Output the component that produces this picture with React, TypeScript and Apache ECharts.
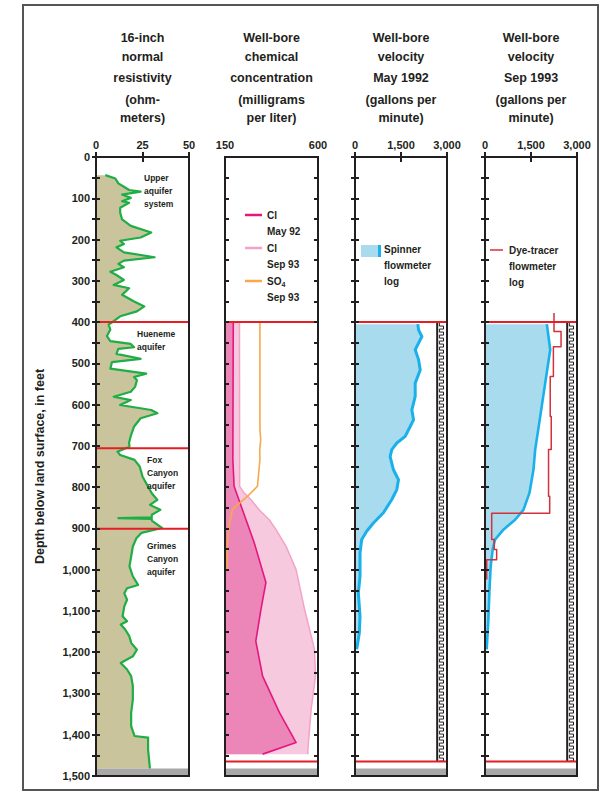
import React, { useEffect, useRef } from "react";
import * as echarts from "echarts";

// ---------- data ----------
const depthAxis = { min: 0, max: 1500, step: 50 };

// 16-inch normal resistivity (ohm-meters) vs depth (ft)
const resDepth = [44, 52, 64, 72, 80, 84, 91, 99, 107, 111, 123, 135, 151, 167, 183, 195, 203, 211, 219, 231, 243, 251, 259, 267, 278, 286, 298, 310, 318, 334, 350, 362, 374, 386, 398, 406, 418, 434, 446, 453, 461, 465, 477, 489, 497, 513, 525, 533, 541, 557, 569, 581, 589, 601, 613, 621, 633, 653, 676, 692, 702, 714, 722, 734, 750, 774, 799, 815, 831, 843, 855, 867, 873, 875, 877, 881, 891, 899, 911, 924, 944, 968, 992, 1016, 1037, 1045, 1057, 1073, 1089, 1113, 1125, 1133, 1145, 1161, 1178, 1194, 1210, 1226, 1242, 1258, 1282, 1315, 1347, 1379, 1403, 1407, 1436, 1482];
const resOhm = [5, 10.4, 12, 15, 17.8, 24, 14, 18.7, 14, 17.8, 13, 13, 14, 18.7, 29.7, 24, 13, 15, 11, 15, 31.5, 15, 12, 15, 7.7, 11, 15, 9.5, 17.8, 14, 20.5, 26, 22, 13, 9.5, 6.8, 7.7, 5.9, 7.7, 18.7, 20.5, 12, 11, 24, 8.6, 7.7, 27, 20.5, 22, 21, 18.7, 9.5, 18.7, 13, 29.7, 33, 24, 20.5, 18.7, 17.8, 18, 11.5, 13, 20.7, 23.5, 25, 28, 30, 33, 29, 34.6, 30, 30, 12, 30, 30, 33, 35.5, 24.4, 21.7, 19.8, 18.9, 18, 19.8, 22.6, 16.7, 15.2, 16.7, 15.2, 14.3, 16.7, 13.3, 15.7, 17.9, 19, 22, 19.8, 13.3, 16.7, 18.9, 19.8, 19.8, 18.9, 18.9, 20.7, 28, 28, 29];

// chemical concentration (mg/L)
const clMayDepth = [402, 733, 798, 854, 934, 1031, 1096, 1173, 1258, 1346, 1419, 1447];
const clMayConc = [190, 188, 194, 234, 291, 348, 324, 299, 332, 413, 494, 332];
const clSepDepth = [402, 798, 814, 830, 855, 879, 903, 943, 1000, 1096, 1193, 1258, 1338, 1435, 1447];
const clSepConc = [220, 221, 242, 275, 315, 364, 397, 445, 494, 535, 583, 588, 567, 551, 551];
const so4Depth = [402, 660, 685, 710, 733, 798, 822, 854, 895, 943, 999];
const so4Conc = [319, 319, 323, 318, 319, 307, 259, 186, 169, 161, 161];

// spinner flowmeter, May 1992 (gal/min)
const spinDepth = [405, 419, 435, 451, 467, 491, 516, 548, 580, 613, 637, 653, 677, 693, 709, 726, 758, 782, 806, 830, 862, 887, 907, 927, 959, 1016, 1056, 1113, 1153, 1193];
const spinRate = [2050, 2072, 2181, 2072, 1963, 2072, 2127, 1963, 1963, 1854, 1908, 1800, 1636, 1363, 1200, 1145, 1254, 1418, 1363, 1200, 927, 600, 382, 218, 164, 164, 109, 164, 142, 55];

// Sep 1993 velocity (gal/min)
const sepDepth = [405, 467, 548, 629, 709, 758, 814, 855, 879, 903, 927, 951, 992, 1056, 1121, 1193];
const sepRate = [2017, 2127, 1963, 1800, 1636, 1580, 1450, 1254, 981, 600, 327, 251, 185, 142, 109, 55];

// dye-tracer flowmeter steps, Sep 1993
const dyeTop = [378, 423, 460, 532, 629, 709, 822, 863, 927, 951, 976];
const dyeBottom = [423, 460, 532, 629, 709, 822, 863, 927, 951, 976, 1024];
const dyeRate = [2250, 2480, 2230, 2127, 2160, 2072, 2110, 218, 300, 380, 55];

// aquifer boundaries and well features (ft)
const aquiferBoundaries = [400, 706, 901];
const wellBoundaries = [400, 1465];
const screenInterval = [2680, 400, 1465]; // [gal/min start, top, bottom]
const bottomBand = [1482, 1500];

// axis ranges and labels
const xMin = [0, 150, 0, 0];
const xMax = [50, 600, 3000, 3000];
const xInterval = [25, 150, 1500, 1500];
const xLabelsShown = [[0, 25, 50], [150, 600], [0, 1500, 3000], [0, 1500, 3000]];

const titleLines = [
  ["16-inch", "normal", "resistivity", "(ohm-", "meters)"],
  ["Well-bore", "chemical", "concentration", "(milligrams", "per liter)"],
  ["Well-bore", "velocity", "May 1992", "(gallons per", "minute)"],
  ["Well-bore", "velocity", "Sep 1993", "(gallons per", "minute)"],
];
const yAxisTitle = "Depth below land surface, in feet";
const aquiferNames = [
  ["Upper", "aquifer", "system"],
  ["Hueneme", "aquifer"],
  ["Fox", "Canyon", "aquifer"],
  ["Grimes", "Canyon", "aquifer"],
];
const chemLegend = [
  ["Cl", "May 92"],
  ["Cl", "Sep 93"],
  ["SO{s|4}", "Sep 93"],
];
const spinnerLegend = ["Spinner", "flowmeter", "log"];
const dyeLegend = ["Dye-tracer", "flowmeter", "log"];

// ---------- styles ----------
const FONT = '"Liberation Sans", Arial, Helvetica, sans-serif';
const INK = "#231f20";
const RED = "#e31e25";
const GREEN = "#1fad45";
const OLIVE = "#cac49d";
const MAGENTA = "#e5177e";
const DARKPINK = "#ec86b8";
const LIGHTPINK = "#f6c9de";
const PINKLINE = "#f3a3c7";
const ORANGE = "#f6a94c";
const BLUE = "#1ab0ea";
const LIGHTBLUE = "#a9dbef";
const DYE = "#d2323a";

const panelLeft = [96, 225, 355, 485];
const panelWidth = [93, 93, 92, 92];
const PTOP = 157;
const PHEIGHT = 619;

const fmt = (v: number) => v.toLocaleString("en-US");

function fillPoly(i: number, xs: number[], ys: number[], color: string, z: number) {
  const base = xMin[i];
  return {
    type: "custom",
    xAxisIndex: 2 * i,
    yAxisIndex: 2 * i,
    z,
    silent: true,
    data: xs.map((x, k) => [x, ys[k]]),
    renderItem: (params: any, api: any) => {
      if (params.dataIndex !== 0) return null;
      const pts = [api.coord([base, ys[0]])]
        .concat(xs.map((x, k) => api.coord([x, ys[k]])))
        .concat([api.coord([base, ys[ys.length - 1]])]);
      return { type: "polygon", shape: { points: pts }, style: { fill: color } };
    },
  };
}

function lineSeries(i: number, pts: number[][], color: string, width: number, z: number) {
  return {
    type: "line",
    xAxisIndex: 2 * i,
    yAxisIndex: 2 * i,
    z,
    silent: true,
    showSymbol: false,
    symbol: "none",
    data: pts,
    lineStyle: { color, width, join: "round" },
  };
}

function hLines(i: number, depths: number[], color: string, z: number) {
  return {
    type: "custom",
    xAxisIndex: 2 * i,
    yAxisIndex: 2 * i,
    z,
    silent: true,
    data: depths.map((d) => [xMin[i], d]),
    renderItem: (params: any, api: any) => {
      const a = api.coord([xMin[i], api.value(1)]);
      const b = api.coord([xMax[i], api.value(1)]);
      return { type: "line", shape: { x1: a[0], y1: a[1], x2: b[0], y2: b[1] }, style: { stroke: color, lineWidth: 2 } };
    },
  };
}

function band(i: number) {
  return {
    type: "custom",
    xAxisIndex: 2 * i,
    yAxisIndex: 2 * i,
    z: 8,
    silent: true,
    data: [[xMin[i], bottomBand[0], bottomBand[1]]],
    renderItem: (params: any, api: any) => {
      const a = api.coord([xMin[i], api.value(1)]);
      const b = api.coord([xMax[i], api.value(2)]);
      return { type: "rect", shape: { x: a[0], y: a[1], width: b[0] - a[0], height: b[1] - a[1] }, style: { fill: "#a8a8a8" } };
    },
  };
}

function screen(i: number) {
  return {
    type: "custom",
    xAxisIndex: 2 * i,
    yAxisIndex: 2 * i,
    z: 6,
    silent: true,
    data: [screenInterval],
    renderItem: (params: any, api: any) => {
      const a = api.coord([api.value(0), api.value(1)]);
      const b = api.coord([xMax[i], api.value(2)]);
      const xl = a[0], yt = a[1], xr = b[0], yb = b[1];
      const pts: number[][] = [];
      const step = 3;
      let k = 0;
      const p = xl + 2.2, q = xr - 3.5;
      for (let y = yt + 1; y < yb; y += step) {
        const x = k % 2 ? q : p;
        pts.push([x, y], [x, Math.min(y + step, yb)]);
        k++;
      }
      return {
        type: "group",
        children: [
          { type: "rect", shape: { x: xl, y: yt, width: xr - xl, height: yb - yt }, style: { fill: "#fff" } },
          { type: "polyline", shape: { points: pts }, style: { stroke: INK, lineWidth: 1, fill: null } },
          { type: "line", shape: { x1: xl, y1: yt, x2: xl, y2: yb }, style: { stroke: INK, lineWidth: 2 } },
        ],
      };
    },
  };
}

function txt(x: number, y: number, text: string, size: number, align = "left", extra: any = {}) {
  return {
    type: "text",
    x,
    y,
    silent: true,
    z: 20,
    style: { text, fontFamily: FONT, fontSize: size, fontWeight: "bold", fill: INK, align, verticalAlign: "middle", ...extra },
  };
}

export default function App() {
  const ref = useRef<HTMLDivElement>(null);
  useEffect(() => {
    if (!ref.current) return;
    const chart = echarts.init(ref.current, undefined, { renderer: "svg" });

    const grids = panelLeft.map((l, i) => ({
      left: l, top: PTOP, width: panelWidth[i], height: PHEIGHT,
      show: true, borderColor: INK, borderWidth: 2, backgroundColor: "transparent", z: 10,
    }));

    const xAxes: any[] = [];
    const yAxes: any[] = [];
    for (let i = 0; i < 4; i++) {
      for (const pos of ["top", "bottom"]) {
        xAxes.push({
          gridIndex: i, type: "value", position: pos, min: xMin[i], max: xMax[i], interval: xInterval[i],
          z: 11,
          axisLine: { show: false }, splitLine: { show: false },
          axisTick: { show: i !== 1, inside: true, length: 5, lineStyle: { color: INK, width: 2 } },
          axisLabel: {
            show: pos === "top", margin: 7, fontSize: 11, fontWeight: "bold", fontFamily: FONT, color: INK,
            formatter: (v: number) => (xLabelsShown[i].includes(v) ? fmt(v) : ""),
          },
        });
      }
      for (const pos of ["left", "right"]) {
        const main = i === 0 && pos === "left";
        yAxes.push({
          gridIndex: i, type: "value", position: pos, inverse: true,
          min: depthAxis.min, max: depthAxis.max, interval: depthAxis.step,
          z: 11,
          axisLine: { show: false }, splitLine: { show: false },
          axisTick: { inside: true, length: 4, lineStyle: { color: INK, width: 2 } },
          axisLabel: {
            show: main, margin: 6, fontSize: 11, fontWeight: "bold", fontFamily: FONT, color: INK,
            formatter: (v: number) => (v % 100 === 0 ? fmt(v) : ""),
          },
          name: main ? yAxisTitle : "",
          nameLocation: "middle", nameRotate: 90, nameGap: 50,
          nameTextStyle: { fontSize: 12.5, fontWeight: "bold", fontFamily: FONT, color: INK },
        });
      }
    }

    const resPts = resOhm.map((v, k) => [v, resDepth[k]]);
    const clMayPts = clMayConc.map((v, k) => [v, clMayDepth[k]]);
    const clSepPts = clSepConc.map((v, k) => [v, clSepDepth[k]]);
    const so4Pts = so4Conc.map((v, k) => [v, so4Depth[k]]);
    const spinPts = spinRate.map((v, k) => [v, spinDepth[k]]);
    const sepPts = sepRate.map((v, k) => [v, sepDepth[k]]);
    const dyePts: number[][] = [];
    dyeRate.forEach((r, k) => { dyePts.push([r, dyeTop[k]]); dyePts.push([r, dyeBottom[k]]); });

    const series: any[] = [
      // panel 1
      fillPoly(0, resOhm, resDepth, OLIVE, 1),
      lineSeries(0, resPts, GREEN, 2.2, 3),
      hLines(0, aquiferBoundaries, RED, 7),
      band(0),
      // panel 2
      fillPoly(1, clSepConc, clSepDepth, LIGHTPINK, 1),
      fillPoly(1, clMayConc, clMayDepth, DARKPINK, 2),
      lineSeries(1, clSepPts, PINKLINE, 1.5, 3),
      lineSeries(1, clMayPts, MAGENTA, 1.6, 4),
      lineSeries(1, so4Pts, ORANGE, 1.6, 5),
      hLines(1, wellBoundaries, RED, 7),
      band(1),
      // panel 3
      fillPoly(2, spinRate, spinDepth, LIGHTBLUE, 1),
      lineSeries(2, spinPts, BLUE, 3, 3),
      screen(2),
      hLines(2, wellBoundaries, RED, 7),
      band(2),
      // panel 4
      fillPoly(3, sepRate, sepDepth, LIGHTBLUE, 1),
      lineSeries(3, sepPts, BLUE, 2.6, 3),
      lineSeries(3, dyePts, DYE, 1.5, 4),
      screen(3),
      hLines(3, wellBoundaries, RED, 7),
      band(3),
    ];

    const graphics: any[] = [];
    graphics.push({ type: "rect", shape: { x: 23, y: 5, width: 575, height: 785 }, style: { fill: "none", stroke: "#555", lineWidth: 2 }, silent: true, z: 0 });
    const titleY = [38, 57, 78, 100, 118];
    titleLines.forEach((lines, i) => {
      const cx = panelLeft[i] + panelWidth[i] / 2;
      lines.forEach((t, k) => graphics.push(txt(cx, titleY[k], t, 12.5, "center")));
    });
    // aquifer names
    const aqPos = [[144, 178], [137, 334], [147, 460], [147, 546]];
    aquiferNames.forEach((lines, i) => {
      lines.forEach((t, k) => graphics.push(txt(aqPos[i][0], aqPos[i][1] + k * 13, t, 8.5)));
    });
    // chem legend
    const chemColors = [MAGENTA, PINKLINE, ORANGE];
    chemLegend.forEach((pair, k) => {
      const y = 215 + k * 33;
      graphics.push({ type: "line", shape: { x1: 245, y1: y, x2: 262, y2: y }, style: { stroke: chemColors[k], lineWidth: 2.5 }, z: 20, silent: true });
      graphics.push(txt(267, y, pair[0], 10, "left", { rich: { s: { fontSize: 7, fontWeight: "bold", fontFamily: FONT, fill: INK, verticalAlign: "bottom", padding: [6, 0, 0, 0] } } }));
      graphics.push(txt(267, y + 16, pair[1], 10));
    });
    // spinner legend
    graphics.push({ type: "rect", shape: { x: 361, y: 245, width: 17, height: 12 }, style: { fill: LIGHTBLUE }, z: 20, silent: true });
    graphics.push({ type: "line", shape: { x1: 379.5, y1: 245, x2: 379.5, y2: 257 }, style: { stroke: BLUE, lineWidth: 3 }, z: 20, silent: true });
    spinnerLegend.forEach((t, k) => graphics.push(txt(384, 249 + k * 16, t, 10)));
    // dye legend
    graphics.push({ type: "line", shape: { x1: 490, y1: 250, x2: 503, y2: 250 }, style: { stroke: DYE, lineWidth: 1.5 }, z: 20, silent: true });
    dyeLegend.forEach((t, k) => graphics.push(txt(509, 250 + k * 16, t, 10)));

    chart.setOption({
      animation: false,
      backgroundColor: "#fff",
      textStyle: { fontFamily: FONT },
      grid: grids,
      xAxis: xAxes,
      yAxis: yAxes,
      series,
      graphic: graphics,
    });
    return () => chart.dispose();
  }, []);
  return <div ref={ref} style={{ position: "absolute", left: 0, top: 0, width: 600, height: 794 }} />;
}
